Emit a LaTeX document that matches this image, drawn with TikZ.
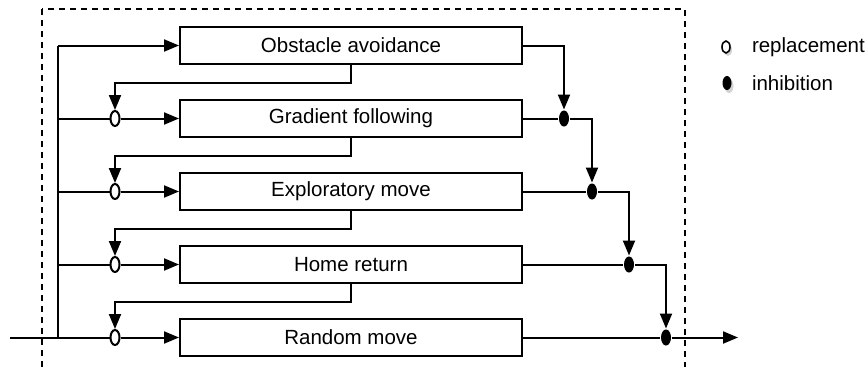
\documentclass[tikz,border=0pt]{standalone}
\usepackage{fontspec}
\setmainfont{Liberation Sans}
\usetikzlibrary{positioning, arrows.meta, shapes.geometric, shadows}
\tikzset{
    behav/.style={draw, line width=2pt, minimum width=342pt, minimum height=37pt,
        inner sep=0pt, font=\fontsize{20.5}{24}\selectfont},
    repl/.style={ellipse, draw, fill=white, line width=2pt, minimum width=9pt,
        minimum height=15pt, inner sep=0pt},
    inhib/.style={ellipse, fill=black, minimum width=10pt, minimum height=16pt, inner sep=0pt},
    arr/.style={-{Triangle[length=15pt, width=12pt]}},
    legtext/.style={anchor=west, inner sep=0pt, font=\fontsize{20.5}{24}\selectfont},
}

\begin{document}
\begin{tikzpicture}[x=1pt, y=-1pt, line width=2pt]
    \tikzset{node distance=34pt}
    \useasboundingbox (0,0) rectangle (868,367);

    % subsumption layers
    \node[behav] (b1) at (351,45.5) {Obstacle avoidance};
    \node[behav, below=of b1] (b2) {Gradient following};
    \node[behav, below=of b2] (b3) {Exploratory move};
    \node[behav, below=of b3] (b4) {Home return};
    \node[behav, below=of b4] (b5) {Random move};

    \draw[dashed, dash pattern=on 6pt off 5pt, line width=1.4pt] (42,9) rectangle (685,367.5);

    % sensor input
    \coordinate (in) at (10,0 |- b5);
    \coordinate (t1) at (58,0 |- b1);
    \coordinate (t5) at (58,0 |- b5);
    \draw (in) -- (t5) -- (t1);
    \draw[arr] (t1) -- (b1);

    \foreach \k in {2,...,5} {
        \node[repl] (r\k) at (115,0 |- b\k) {};
        \coordinate (t\k) at (58,0 |- b\k);
        \draw (t\k) -- (r\k);
        \draw[arr] (r\k) -- (b\k);
    }
    \foreach \k/\n in {1/2,2/3,3/4,4/5} {
        \draw[arr] (b\k.south) -- ++(0,18) -| (r\n);
    }

    % inhibition
    \node[inhib] (h1) at (564,0 |- b2) {};
    \node[inhib] (h2) at (592,0 |- b3) {};
    \node[inhib] (h3) at (629,0 |- b4) {};
    \node[inhib] (h4) at (666,0 |- b5) {};
    \coordinate (out) at (738,0 |- b5);

    \draw[arr] (b1.east) -| (h1);
    \draw (b2.east) -- (h1);
    \draw[arr] (h1) -| (h2);
    \draw (b3.east) -- (h2);
    \draw[arr] (h2) -| (h3);
    \draw (b4.east) -- (h3);
    \draw[arr] (h3) -| (h4);
    \draw (b5.east) -- (h4);
    \draw[arr] (h4) -- (out);

    % legend
    \node[ellipse, draw, fill=white, line width=1.6pt, minimum width=8pt, minimum height=12pt, inner sep=0pt,
        drop shadow={shadow xshift=2pt, shadow yshift=-3pt, opacity=0.35}] (lr) at (726,47) {};
    \node[inhib, minimum width=9pt, minimum height=14pt,
        drop shadow={shadow xshift=2pt, shadow yshift=-3pt, opacity=0.35}] (li) at (727,83) {};
    \node[legtext] at (751,47) {replacement};
    \node[legtext] at (751,83) {inhibition};
\end{tikzpicture}
\end{document}
